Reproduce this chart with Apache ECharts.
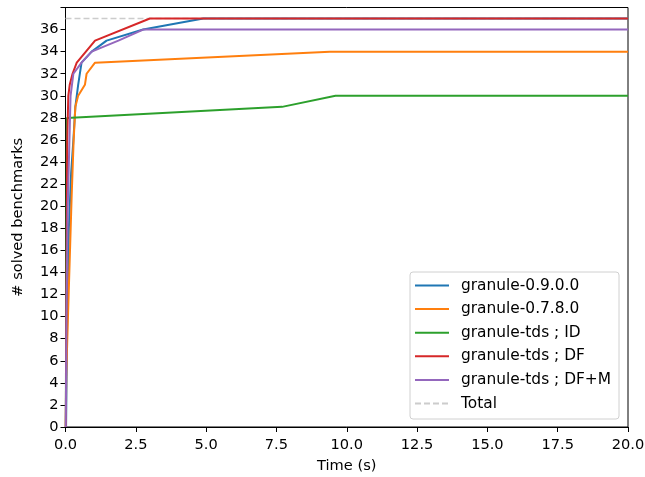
<!DOCTYPE html>
<html>
<head>
<meta charset="utf-8">
<script src="https://cdn.jsdelivr.net/npm/echarts@6/dist/echarts.min.js"></script>
<style>html,body{margin:0;padding:0;background:#fff}#c{width:645px;height:477px}</style>
</head>
<body>
<div id="c"></div>
<script>
const seriesNames = ['granule-0.9.0.0', 'granule-0.7.8.0', 'granule-tds ; ID', 'granule-tds ; DF', 'granule-tds ; DF+M', 'Total'];
const colors = ['#1f77b4', '#ff7f0e', '#2ca02c', '#d62728', '#9467bd', '#cccccc'];
// [time (s), # solved]
const granule090 = [[0.02,0],[0.06,10],[0.12,18],[0.2,23],[0.28,26],[0.35,29],[0.45,31],[0.57,33],[0.93,34],[1.46,35],[2.76,36],[4.9,37],[20,37]];
const granule078 = [[0.01,0],[0.03,5],[0.1,11],[0.16,16],[0.22,21],[0.29,26],[0.35,29],[0.45,30],[0.69,31],[0.75,32],[1.05,33],[9.4,34],[20,34]];
const tdsID = [[0.01,0],[0.03,15],[0.05,28],[7.7,29],[9.6,30],[20,30]];
const tdsDF = [[0.01,0],[0.03,10],[0.05,20],[0.06,26],[0.1,30],[0.15,31],[0.25,32],[0.4,33],[1.05,35],[3.0,37],[20,37]];
const tdsDFM = [[0.01,0],[0.04,12],[0.08,20],[0.14,26],[0.18,30],[0.28,32],[0.57,33],[0.93,34],[1.88,35],[2.76,36],[20,36]];
const total = [[0,37],[20,37]];
const xTicks = {min: 0, max: 20, interval: 2.5};
const yTicks = {min: 0, max: 38, interval: 2};

const data = [granule090, granule078, tdsID, tdsDF, tdsDFM, total];
const FS = 14.6;
const LFS = 15.4;
const FF = 'DejaVu Sans';

const chart = echarts.init(document.getElementById('c'), null, {renderer: 'canvas'});
chart.setOption({
  animation: false,
  backgroundColor: '#fff',
  textStyle: {fontFamily: FF},
  grid: {left: 65.5, right: 17, top: 7.5, bottom: 50, show: true, borderColor: '#000', borderWidth: 1, backgroundColor: 'transparent', containLabel: false, outerBoundsMode: 'none'},
  xAxis: {
    type: 'value', min: xTicks.min, max: xTicks.max, interval: xTicks.interval,
    name: 'Time (s)', nameLocation: 'middle', nameGap: 32,
    nameTextStyle: {fontSize: FS, color: '#000', fontFamily: FF},
    axisLine: {show: true, lineStyle: {color: '#000', width: 1}},
    axisTick: {show: true, inside: false, length: 5, lineStyle: {color: '#000'}},
    axisLabel: {fontSize: FS, color: '#000', fontFamily: FF, margin: 11, formatter: v => v.toFixed(1)},
    splitLine: {show: false}
  },
  yAxis: {
    type: 'value', min: yTicks.min, max: yTicks.max, interval: yTicks.interval,
    name: '# solved benchmarks', nameLocation: 'middle', nameGap: 40,
    nameTextStyle: {fontSize: FS, color: '#000', fontFamily: FF},
    axisLine: {show: true, lineStyle: {color: '#000', width: 1}},
    axisTick: {show: true, inside: false, length: 5, lineStyle: {color: '#000'}},
    axisLabel: {fontSize: FS, color: '#000', fontFamily: FF, margin: 7, formatter: v => (v >= 38 ? '' : String(v))},
    splitLine: {show: false}
  },
  legend: {
    orient: 'vertical', left: 410, top: 272,
    padding: [6, 8, 8, 4],
    itemWidth: 34, itemHeight: 14, itemGap: 8.6,
    backgroundColor: 'rgba(255,255,255,0.8)',
    borderColor: '#d0d0d0', borderWidth: 1, borderRadius: 3,
    itemStyle: {opacity: 0},
    textStyle: {fontSize: LFS, color: '#000', fontFamily: FF, padding: [0, 0, 0, 7]},
    data: seriesNames
  },
  series: data.map((d, i) => ({
    name: seriesNames[i],
    type: 'line',
    data: d,
    symbol: 'none',
    clip: true,
    z: i === 5 ? 1 : 2 + i,
    lineStyle: {color: colors[i], width: i === 5 ? 1.5 : 2, type: i === 5 ? [6, 3] : 'solid'},
    itemStyle: {color: colors[i]}
  }))
});
</script>
</body>
</html>
